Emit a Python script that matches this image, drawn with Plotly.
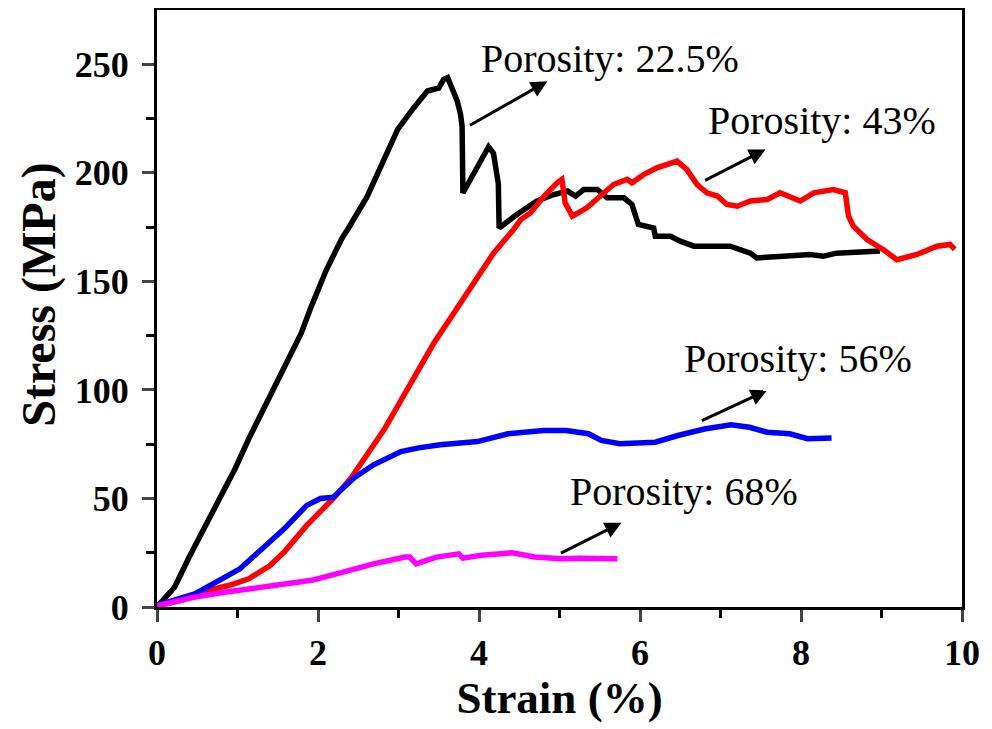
import plotly.graph_objects as go

# Porosity 22.5 %
strain_225 = [0, 0.1, 0.22, 0.4, 0.58, 0.97, 1.14, 1.39, 1.79, 1.91, 2.1, 2.3, 2.37, 2.61, 2.8, 2.99, 3.19, 3.36,
              3.44, 3.5, 3.56, 3.61, 3.67, 3.73, 3.77, 3.79, 3.8, 3.95, 4.12, 4.18, 4.24, 4.25, 4.47, 4.72,
              4.93, 5.1, 5.2, 5.3, 5.47, 5.59, 5.8, 5.9, 5.98, 6.17, 6.19, 6.38, 6.5, 6.67, 7.12, 7.37, 7.45,
              7.78, 8.11, 8.28, 8.44, 8.98]
stress_225 = [0, 4, 9.2, 23, 36, 63.7, 77.5, 95.9, 126, 137.8, 155, 170, 174, 189, 205, 220, 230, 237.7,
              238.5, 239, 243, 243.8, 238.5, 233, 227, 221.5, 190.7, 201, 212, 209, 195, 174.6, 180.8, 187,
              190, 191.6, 189.3, 192.3, 192.3, 188.5, 188.5, 185.4, 176.2, 174.6, 170.8, 170.8, 168.5, 166.2,
              166.2, 163, 160.8, 161.6, 162.4, 161.6, 163, 164]

# Porosity 43 %
strain_43 = [0, 0.3, 0.58, 0.9, 1.14, 1.4, 1.58, 1.86, 2.19, 2.41, 2.82, 3.11, 3.44, 3.69, 3.94, 4.18, 4.43,
             4.52, 4.64, 4.81, 4.97, 5.03, 5.07, 5.16, 5.34, 5.55, 5.67, 5.84, 5.9, 6.05, 6.21, 6.46, 6.58,
             6.71, 6.83, 6.96, 7.08, 7.21, 7.37, 7.58, 7.74, 7.99, 8.16, 8.4, 8.55, 8.59, 8.65, 8.82, 9.02,
             9.19, 9.44, 9.69, 9.85, 9.91]
stress_43 = [0.5, 3, 7.2, 10, 13, 19, 25.3, 37.6, 50, 59.4, 81.6, 100, 121.6, 135.5, 149.3, 163, 173.9,
             178.5, 181.6, 189.3, 195.4, 197, 186.2, 180, 183.9, 190.8, 194.6, 197, 195.4, 199.3, 202.3, 205.4,
             201.6, 194.6, 190.8, 189.3, 185.4, 184.6, 187, 187.7, 190.8, 187, 190.8, 192.3, 190.8, 180,
             175.4, 169.3, 164.7, 160, 162.4, 166.2, 167, 164.7]

# Porosity 56 %
strain_56 = [0, 0.47, 1.03, 1.58, 1.86, 2.03, 2.19, 2.45, 2.69, 3.03, 3.25, 3.52, 3.98, 4.36, 4.8, 5.08,
             5.36, 5.52, 5.75, 6.02, 6.19, 6.47, 6.8, 7.13, 7.36, 7.58, 7.86, 8.08, 8.38]
stress_56 = [0.8, 6, 17.6, 36, 46.8, 50, 50.6, 59.5, 65.5, 71.6, 73.3, 74.7, 76.2, 79.8, 81.3, 81.3,
             79.8, 76.7, 75.2, 75.9, 75.9, 79, 82, 83.9, 82.8, 80.5, 79.8, 77.5, 77.8]

# Porosity 68 %
strain_68 = [0, 0.47, 0.86, 1.31, 1.92, 2.31, 2.69, 3.08, 3.14, 3.22, 3.47, 3.75, 3.8, 4.03, 4.41, 4.69,
             5.02, 5.25, 5.72]
stress_68 = [0.5, 4.6, 6.9, 9.2, 12.3, 16.1, 19.9, 23, 23, 19.9, 23, 24.5, 22.5, 23.8, 25, 23,
             22.2, 22.5, 22.2]

labels = ["Porosity: 22.5%", "Porosity: 43%", "Porosity: 56%", "Porosity: 68%"]
label_x = [5.63, 8.26, 7.96, 6.55]
label_y = [252.5, 224.2, 114.6, 53.3]
arrow_tail_x = [3.87, 6.79, 6.75, 5.0]
arrow_tail_y = [221.5, 196.2, 85.5, 24.5]
arrow_head_x = [4.85, 7.56, 7.58, 5.77]
arrow_head_y = [242.2, 210.8, 99.8, 38.8]

serif = "Times New Roman, Liberation Serif, serif"

fig = go.Figure()
for xs, ys, col in [(strain_225, stress_225, "black"), (strain_43, stress_43, "#ff0000"),
                    (strain_56, stress_56, "#0000ff"), (strain_68, stress_68, "#ff00ff")]:
    fig.add_trace(go.Scatter(x=xs, y=ys, mode="lines", line=dict(color=col, width=5.5),
                             showlegend=False))

for t, lx, ly, tx, ty, hx, hy in zip(labels, label_x, label_y, arrow_tail_x, arrow_tail_y,
                                      arrow_head_x, arrow_head_y):
    fig.add_annotation(x=lx, y=ly, text=t, showarrow=False, xanchor="center", yanchor="middle",
                       font=dict(family=serif, size=40, color="black"))
    fig.add_annotation(x=hx, y=hy, ax=tx, ay=ty, axref="x", ayref="y", xref="x", yref="y",
                       text="", showarrow=True, arrowhead=2, arrowsize=1.1, arrowwidth=3,
                       arrowcolor="black")

# y-axis title
fig.add_annotation(x=-0.1466, y=0.523, xref="paper", yref="paper", text="<b>Stress (MPa)</b>",
                   textangle=-90, showarrow=False, xanchor="center", yanchor="middle",
                   font=dict(family=serif, size=48, color="black"))

fig.update_layout(
    width=984, height=721,
    margin=dict(l=149, r=30, t=2, b=122),
    paper_bgcolor="white", plot_bgcolor="white",
    font=dict(family=serif, color="black"),
)
fig.update_xaxes(range=[0, 10], tickvals=[0, 2, 4, 6, 8, 10], ticks="outside", ticklen=12, tickwidth=3,
                 showline=True, linewidth=3, linecolor="black", mirror=True, showgrid=False, zeroline=False,
                 automargin=False,
                 tickfont=dict(family=serif, size=36, color="black", weight="bold"),
                 minor=dict(tickvals=[1, 3, 5, 7, 9], ticks="outside", ticklen=8, tickwidth=3, tickcolor="black"),
                 title=dict(text="<b>Strain (%)</b>", font=dict(family=serif, size=45), standoff=10))
fig.update_yaxes(range=[0, 275], tickvals=[0, 50, 100, 150, 200, 250], ticks="outside", ticklen=12, tickwidth=3,
                 showline=True, linewidth=3, linecolor="black", mirror=True, showgrid=False, zeroline=False,
                 automargin=False, ticklabelstandoff=6,
                 tickfont=dict(family=serif, size=36, color="black", weight="bold"),
                 minor=dict(tickvals=[25, 75, 125, 175, 225], ticks="outside", ticklen=8, tickwidth=3, tickcolor="black"))

fig.write_html("out.html")
